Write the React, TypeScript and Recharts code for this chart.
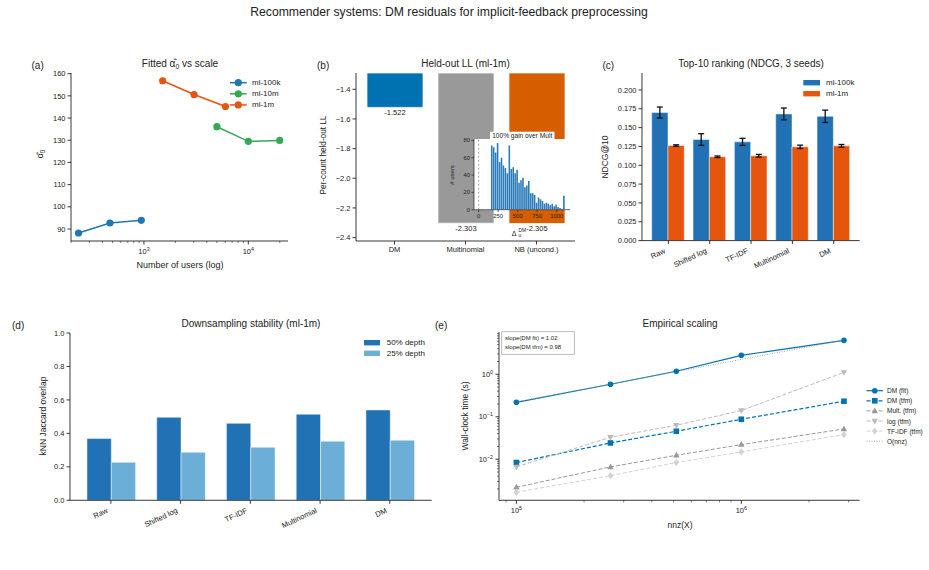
import React from "react";
import {
  Bar,
  BarChart,
  Cell,
  ErrorBar,
  LabelList,
  Line,
  LineChart,
  ReferenceLine,
  XAxis,
  YAxis,
} from "recharts";

const FONT = '"Liberation Sans", Arial, Helvetica, sans-serif';
const INK = "#222222";

// ---- (a) fitted alpha_0 vs number of users
const ml100kUsers = [236, 472, 943];
const ml100kAlpha = [88.2, 92.7, 93.9];
const ml10mUsers = [5000, 10000, 20000];
const ml10mAlpha = [136.1, 129.5, 129.9];
const ml1mUsers = [1510, 3020, 6040];
const ml1mAlpha = [156.8, 150.6, 145.2];
const userTicks = [
  200, 300, 400, 500, 600, 700, 800, 900, 1000, 2000, 3000, 4000, 5000, 6000,
  7000, 8000, 9000, 10000, 20000,
];
const alphaTicks = [90, 100, 110, 120, 130, 140, 150, 160];

// ---- (b) held-out log-likelihood + inset histogram of gains
const llModels = ["DM", "Multinomial", "NB (uncond.)"];
const llValues = [-1.522, -2.303, -2.305];
const llColors = ["#0072b2", "#999999", "#d55e00"];
const llTicks = [-2.4, -2.2, -2.0, -1.8, -1.6, -1.4];
const gainBins = [
  170, 195, 220, 245, 270, 295, 320, 345, 370, 395, 420, 445, 470, 495, 520,
  545, 570, 595, 620, 645, 670, 695, 720, 745, 770, 795, 820, 845, 870, 895,
  920, 945, 970, 995, 1020, 1045, 1070, 1095,
];
const gainUsers = [
  74, 72, 66, 77, 55, 60, 51, 48, 42, 74, 47, 49, 42, 46, 31, 34, 37, 26, 28,
  33, 19, 19, 17, 8, 14, 12, 10, 7, 8, 7, 5, 7, 4, 6, 3, 2, 1, 16,
];
const gainTicks = [0, 250, 500, 750, 1000];
const gainCountTicks = [0, 20, 40, 60, 80];

// ---- (c) NDCG@10
const methods = ["Raw", "Shifted log", "TF-IDF", "Multinomial", "DM"];
const ndcgMl100k = [0.17, 0.1342, 0.1311, 0.1682, 0.165];
const ndcgMl100kErr = [0.0073, 0.0077, 0.0047, 0.0078, 0.0082];
const ndcgMl1m = [0.1262, 0.1113, 0.1126, 0.1245, 0.1258];
const ndcgMl1mErr = [0.001, 0.001, 0.0018, 0.0022, 0.0018];
const ndcgTicks = [0, 0.025, 0.05, 0.075, 0.1, 0.125, 0.15, 0.175, 0.2];

// ---- (d) downsampling stability
const jaccard50 = [0.369, 0.496, 0.46, 0.514, 0.54];
const jaccard25 = [0.227, 0.287, 0.317, 0.353, 0.359];
const jaccardTicks = [0, 0.2, 0.4, 0.6, 0.8, 1.0];

// ---- (e) empirical scaling
const nnz = [100000, 262000, 514000, 1000000, 2860000];
const dmFitTime = [0.219, 0.582, 1.18, 2.8, 6.3];
const dmTfmTime = [0.00836, 0.0242, 0.0456, 0.0873, 0.232];
const multTfmTime = [0.00219, 0.0066, 0.0124, 0.0221, 0.0516];
const logTfmTime = [0.0066, 0.033, 0.063, 0.14, 1.11];
const tfidfTfmTime = [0.00167, 0.0041, 0.00836, 0.0149, 0.0381];
const oNnzTime = [0.224, 0.586, 1.15, 2.24, 6.4];
const nnzTicks = [
  90000, 100000, 200000, 300000, 400000, 500000, 600000, 700000, 800000,
  900000, 1000000, 2000000, 3000000,
];
const timeTicks = [
  0.002, 0.003, 0.004, 0.005, 0.006, 0.007, 0.008, 0.009, 0.01, 0.02, 0.03,
  0.04, 0.05, 0.06, 0.07, 0.08, 0.09, 0.1, 0.2, 0.3, 0.4, 0.5, 0.6, 0.7, 0.8,
  0.9, 1, 2, 3, 4, 5, 6, 7, 8, 9,
];

const BLUE_A = "#1f77b4";
const GREEN_A = "#35a855";
const ORANGE = "#e6550d";
const BLUE_C = "#2171b5";
const LIGHT_D = "#6baed6";
const DM_BLUE = "#0072b2";

type Box = { x0: number; x1: number; y0: number; y1: number };

// chart box so that the plot area lands exactly on the given rectangle
const frame = (b: Box, yw = 44, xh = 40, pad = 6) => ({
  left: b.x0 - yw,
  top: b.y0 - pad,
  width: b.x1 - b.x0 + yw + pad,
  height: b.y1 - b.y0 + pad + xh,
  margin: { top: pad, right: pad, bottom: 0, left: 0 },
  yw,
  xh,
});

const axisLine = { stroke: INK, strokeWidth: 0.9 };
const tickLine = { stroke: INK, strokeWidth: 0.9 };
const tickText = { fill: INK, fontSize: 7.5 };

const isDecade = (v: number) =>
  Math.abs(Math.log10(v) - Math.round(Math.log10(v))) < 1e-9;

const Pow10 = ({ x, y, exp, size, anchor }: any) => (
  <text x={x} y={y} fontSize={size} fill={INK} textAnchor={anchor}>
    10
    <tspan dy={-size * 0.45} fontSize={size * 0.7}>
      {exp < 0 ? `\u2212${-exp}` : `${exp}`}
    </tspan>
  </text>
);

const LogXTick = (props: any) => {
  const { x, y, payload } = props;
  const major = isDecade(payload.value);
  return (
    <g>
      <line
        x1={x}
        x2={x}
        y1={y}
        y2={y + (major ? 3.5 : 2)}
        stroke={INK}
        strokeWidth={major ? 0.9 : 0.6}
      />
      {major && (
        <Pow10
          x={x}
          y={y + 13}
          exp={Math.round(Math.log10(payload.value))}
          size={7.5}
          anchor="middle"
        />
      )}
    </g>
  );
};

const LogYTick = (props: any) => {
  const { x, y, payload } = props;
  const major = isDecade(payload.value);
  return (
    <g>
      <line
        x1={x - (major ? 3.5 : 2)}
        x2={x}
        y1={y}
        y2={y}
        stroke={INK}
        strokeWidth={major ? 0.9 : 0.6}
      />
      {major && (
        <Pow10
          x={x - 6}
          y={y + 2.7}
          exp={Math.round(Math.log10(payload.value))}
          size={7.5}
          anchor="end"
        />
      )}
    </g>
  );
};

const SlantTick = (props: any) => {
  const { x, y, payload } = props;
  return (
    <text
      transform={`translate(${x - 2.5},${y + 8.5}) rotate(-25)`}
      textAnchor="end"
      fontSize={7.5}
      fill={INK}
    >
      {payload.value}
    </text>
  );
};

const Marker = ({ shape, cx, cy, s, fill }: any) => {
  switch (shape) {
    case "square":
      return <rect x={cx - s} y={cy - s} width={2 * s} height={2 * s} fill={fill} />;
    case "up":
      return (
        <polygon
          points={`${cx},${cy - s * 1.25} ${cx - s * 1.15},${cy + s * 0.8} ${cx + s * 1.15},${cy + s * 0.8}`}
          fill={fill}
        />
      );
    case "down":
      return (
        <polygon
          points={`${cx},${cy + s * 1.25} ${cx - s * 1.15},${cy - s * 0.8} ${cx + s * 1.15},${cy - s * 0.8}`}
          fill={fill}
        />
      );
    case "diamond":
      return (
        <polygon
          points={`${cx},${cy - s * 1.3} ${cx + s},${cy} ${cx},${cy + s * 1.3} ${cx - s},${cy}`}
          fill={fill}
        />
      );
    default:
      return <circle cx={cx} cy={cy} r={s} fill={fill} />;
  }
};

// ---------------- (a)
const PA: Box = { x0: 71, x1: 288, y0: 72.7, y1: 240.7 };
const aSeries = [
  { name: "ml-100k", users: ml100kUsers, alpha: ml100kAlpha, color: BLUE_A },
  { name: "ml-10m", users: ml10mUsers, alpha: ml10mAlpha, color: GREEN_A },
  { name: "ml-1m", users: ml1mUsers, alpha: ml1mAlpha, color: ORANGE },
];

function PanelA() {
  const f = frame(PA);
  return (
    <div style={{ position: "absolute", left: f.left, top: f.top }}>
      <LineChart width={f.width} height={f.height} margin={f.margin}>
        <XAxis
          type="number"
          dataKey="users"
          scale="log"
          domain={[200, 24000]}
          allowDataOverflow
          ticks={userTicks}
          interval={0}
          tickSize={0}
          tickMargin={0}
          tick={LogXTick}
          tickLine={false}
          axisLine={axisLine}
          height={f.xh}
        />
        <YAxis
          type="number"
          domain={[84.6, 160.3]}
          allowDataOverflow
          ticks={alphaTicks}
          interval={0}
          tickSize={3.5}
          tickLine={tickLine}
          axisLine={axisLine}
          tick={tickText}
          width={f.yw}
        />
        {aSeries.map((s) => (
          <Line
            key={s.name}
            data={s.users.map((u, i) => ({ users: u, alpha: s.alpha[i] }))}
            dataKey="alpha"
            stroke={s.color}
            strokeWidth={1.5}
            dot={{ r: 3.6, fill: s.color, stroke: s.color, strokeWidth: 0 }}
            isAnimationActive={false}
          />
        ))}
      </LineChart>
    </div>
  );
}

// ---------------- (b)
const PB: Box = { x0: 356, x1: 575, y0: 72.7, y1: 240.7 };
const PINSET: Box = { x0: 474, x1: 570, y0: 139.3, y1: 210 };

const BarEndLabel = (props: any) => {
  const vb = props.viewBox && props.viewBox.width !== undefined ? props.viewBox : props;
  const { x, y, width, height } = vb;
  const bottom = Math.max(y, y + height);
  return (
    <text
      x={x + width / 2}
      y={bottom + 5}
      textAnchor="middle"
      dominantBaseline="central"
      fontSize={7.5}
      fill={INK}
    >
      {Number(props.value).toFixed(3)}
    </text>
  );
};

function PanelB() {
  const f = frame(PB);
  const rows = llModels.map((m, i) => ({ model: m, ll: llValues[i] }));
  const fi = frame(PINSET, 20, 24, 2);
  const hist = gainBins.map((g, i) => ({ gain: g, users: gainUsers[i] }));
  const smallTick = { fill: INK, fontSize: 5.8 };
  const smallLine = { stroke: INK, strokeWidth: 0.7 };
  return (
    <>
      <div style={{ position: "absolute", left: f.left, top: f.top }}>
        <BarChart width={f.width} height={f.height} margin={f.margin} data={rows}>
          <XAxis
            dataKey="model"
            padding={{ left: 3, right: 3 }}
            tickSize={3.5}
            tickLine={tickLine}
            axisLine={axisLine}
            tick={tickText}
            interval={0}
            height={f.xh}
          />
          <YAxis
            type="number"
            domain={[-2.423, -1.29]}
            allowDataOverflow
            ticks={llTicks}
            interval={0}
            tickFormatter={(v: number) => v.toFixed(1).replace("-", "\u2212")}
            tickSize={3.5}
            tickLine={tickLine}
            axisLine={axisLine}
            tick={tickText}
            width={f.yw}
          />
          <Bar
            dataKey="ll"
            barSize={56}
            stroke="#ffffff"
            strokeOpacity={0.7}
            strokeWidth={1}
            isAnimationActive={false}
          >
            {rows.map((r, i) => (
              <Cell key={r.model} fill={llColors[i]} />
            ))}
            <LabelList dataKey="ll" content={BarEndLabel} />
          </Bar>
        </BarChart>
      </div>
      <div
        style={{
          position: "absolute",
          left: PINSET.x0,
          top: PINSET.y0,
          width: PINSET.x1 - PINSET.x0,
          height: PINSET.y1 - PINSET.y0,
          background: "#ffffff",
        }}
      />
      <div style={{ position: "absolute", left: fi.left, top: fi.top }}>
        <BarChart width={fi.width} height={fi.height} margin={fi.margin} data={hist}>
          <XAxis
            type="number"
            dataKey="gain"
            domain={[-60, 1171]}
            allowDataOverflow
            ticks={gainTicks}
            interval={0}
            tickSize={2.5}
            tickMargin={2}
            tickLine={smallLine}
            axisLine={smallLine}
            tick={smallTick}
            height={fi.xh}
          />
          <YAxis
            type="number"
            domain={[0, 81.6]}
            allowDataOverflow
            ticks={gainCountTicks}
            interval={0}
            tickSize={2.5}
            tickMargin={1.5}
            tickLine={smallLine}
            axisLine={smallLine}
            tick={smallTick}
            width={fi.yw}
          />
          <ReferenceLine x={0} stroke="#777777" strokeWidth={0.7} strokeDasharray="2 2" />
          <Bar dataKey="users" fill="#2b7bba" barSize={1.6} isAnimationActive={false} />
        </BarChart>
      </div>
    </>
  );
}

// ---------------- (c)
const PC: Box = { x0: 642.3, x1: 860, y0: 72.7, y1: 240.3 };

function PanelC() {
  const f = frame(PC);
  const rows = methods.map((m, i) => ({
    method: m,
    ml100k: ndcgMl100k[i],
    ml100kErr: ndcgMl100kErr[i],
    ml1m: ndcgMl1m[i],
    ml1mErr: ndcgMl1mErr[i],
  }));
  return (
    <div style={{ position: "absolute", left: f.left, top: f.top }}>
      <BarChart width={f.width} height={f.height} margin={f.margin} data={rows} barGap={0}>
        <XAxis
          dataKey="method"
          padding={{ left: 5.7, right: 5.3 }}
          tickSize={3.5}
          tickMargin={0}
          tickLine={tickLine}
          axisLine={axisLine}
          tick={SlantTick}
          interval={0}
          height={f.xh}
        />
        <YAxis
          type="number"
          domain={[0, 0.2225]}
          allowDataOverflow
          ticks={ndcgTicks}
          interval={0}
          tickFormatter={(v: number) => v.toFixed(3)}
          tickSize={3.5}
          tickLine={tickLine}
          axisLine={axisLine}
          tick={tickText}
          width={f.yw}
        />
        <Bar
          dataKey="ml100k"
          fill={BLUE_C}
          barSize={16.3}
          stroke="#ffffff"
          strokeOpacity={0.6}
          strokeWidth={0.8}
          isAnimationActive={false}
        >
          <ErrorBar dataKey="ml100kErr" width={3} stroke="#111111" strokeWidth={1.3} direction="y" />
        </Bar>
        <Bar
          dataKey="ml1m"
          fill={ORANGE}
          barSize={16.3}
          stroke="#ffffff"
          strokeOpacity={0.6}
          strokeWidth={0.8}
          isAnimationActive={false}
        >
          <ErrorBar dataKey="ml1mErr" width={3} stroke="#111111" strokeWidth={1.3} direction="y" />
        </Bar>
      </BarChart>
    </div>
  );
}

// ---------------- (d)
const PD: Box = { x0: 70, x1: 431.7, y0: 332.7, y1: 500 };

function PanelD() {
  const f = frame(PD);
  const rows = methods.map((m, i) => ({ method: m, d50: jaccard50[i], d25: jaccard25[i] }));
  return (
    <div style={{ position: "absolute", left: f.left, top: f.top }}>
      <BarChart width={f.width} height={f.height} margin={f.margin} data={rows} barGap={0}>
        <XAxis
          dataKey="method"
          padding={{ left: 6, right: 7 }}
          tickSize={3.5}
          tickMargin={0}
          tickLine={tickLine}
          axisLine={axisLine}
          tick={SlantTick}
          interval={0}
          height={f.xh}
        />
        <YAxis
          type="number"
          domain={[0, 1]}
          ticks={jaccardTicks}
          interval={0}
          tickFormatter={(v: number) => v.toFixed(1)}
          tickSize={3.5}
          tickLine={tickLine}
          axisLine={axisLine}
          tick={tickText}
          width={f.yw}
        />
        <Bar
          dataKey="d50"
          fill={BLUE_C}
          barSize={24.3}
          stroke="#ffffff"
          strokeOpacity={0.6}
          strokeWidth={0.8}
          isAnimationActive={false}
        />
        <Bar
          dataKey="d25"
          fill={LIGHT_D}
          barSize={24.3}
          stroke="#ffffff"
          strokeOpacity={0.6}
          strokeWidth={0.8}
          isAnimationActive={false}
        />
      </BarChart>
    </div>
  );
}

// ---------------- (e)
const PE: Box = { x0: 499.3, x1: 860, y0: 331.7, y1: 500 };
const eSeries = [
  { key: "dmFit", name: "DM (fit)", color: DM_BLUE, shape: "circle", dash: undefined, width: 1.2 },
  { key: "dmTfm", name: "DM (tfm)", color: DM_BLUE, shape: "square", dash: "4 2", width: 1.2 },
  { key: "multTfm", name: "Mult. (tfm)", color: "#999999", shape: "up", dash: "4 2", width: 1 },
  { key: "logTfm", name: "log (tfm)", color: "#bbbbbb", shape: "down", dash: "4 2", width: 1 },
  { key: "tfidfTfm", name: "TF-IDF (tfm)", color: "#d2d2d2", shape: "diamond", dash: "4 2", width: 1 },
];

function PanelE() {
  const f = frame(PE);
  const rows = nnz.map((n, i) => ({
    nnz: n,
    dmFit: dmFitTime[i],
    dmTfm: dmTfmTime[i],
    multTfm: multTfmTime[i],
    logTfm: logTfmTime[i],
    tfidfTfm: tfidfTfmTime[i],
    oNnz: oNnzTime[i],
  }));
  return (
    <div style={{ position: "absolute", left: f.left, top: f.top }}>
      <LineChart width={f.width} height={f.height} margin={f.margin} data={rows}>
        <XAxis
          type="number"
          dataKey="nnz"
          scale="log"
          domain={[83700, 3360000]}
          allowDataOverflow
          ticks={nnzTicks}
          interval={0}
          tickSize={0}
          tickMargin={0}
          tick={LogXTick}
          tickLine={false}
          axisLine={axisLine}
          height={f.xh}
        />
        <YAxis
          type="number"
          scale="log"
          domain={[0.00108, 9.9]}
          allowDataOverflow
          ticks={timeTicks}
          interval={0}
          tickSize={0}
          tickMargin={0}
          tick={LogYTick}
          tickLine={false}
          axisLine={axisLine}
          width={f.yw}
        />
        {eSeries.map((s) => (
          <Line
            key={s.key}
            dataKey={s.key}
            stroke={s.color}
            strokeWidth={s.width}
            strokeDasharray={s.dash}
            dot={(p: any) => (
              <Marker key={`${s.key}-${p.index}`} shape={s.shape} cx={p.cx} cy={p.cy} s={2.8} fill={s.color} />
            )}
            isAnimationActive={false}
          />
        ))}
        <Line
          dataKey="oNnz"
          stroke="#999999"
          strokeWidth={0.9}
          strokeDasharray="1 1.5"
          dot={false}
          isAnimationActive={false}
        />
      </LineChart>
    </div>
  );
}

// ---------------- text, legends, annotations
const T = ({ x, y, size = 8.5, anchor = "middle", rotate, fill = INK, children }: any) => (
  <text
    x={x}
    y={y}
    fontSize={size}
    textAnchor={anchor}
    dominantBaseline="central"
    fill={fill}
    transform={rotate ? `rotate(${rotate} ${x} ${y})` : undefined}
  >
    {children}
  </text>
);

function Annotations() {
  return (
    <svg
      width={929}
      height={570}
      style={{ position: "absolute", left: 0, top: 0, pointerEvents: "none", fontFamily: FONT }}
    >
      <T x={449} y={11.7} size={12.2}>
        Recommender systems: DM residuals for implicit-feedback preprocessing
      </T>

      {/* panel letters */}
      <T x={31.5} y={65} size={10} anchor="start">(a)</T>
      <T x={317} y={65} size={10} anchor="start">(b)</T>
      <T x={602.5} y={65} size={10} anchor="start">(c)</T>
      <T x={12} y={325} size={10} anchor="start">(d)</T>
      <T x={435} y={325} size={10} anchor="start">(e)</T>

      {/* titles */}
      <T x={180} y={63} size={10}>
        Fitted α̂<tspan dy={2.5} fontSize={7}>0</tspan>
        <tspan dy={-2.5}> vs scale</tspan>
      </T>
      <T x={465.5} y={63} size={10}>Held-out LL (ml-1m)</T>
      <T x={751} y={63} size={10}>Top-10 ranking (NDCG, 3 seeds)</T>
      <T x={251} y={323} size={10}>Downsampling stability (ml-1m)</T>
      <T x={680} y={323} size={10}>Empirical scaling</T>

      {/* axis labels */}
      <T x={180} y={265} size={9}>Number of users (log)</T>
      <T x={39.5} y={154} rotate={-90}>
        α̂<tspan dy={2.5} fontSize={6.5}>0</tspan>
      </T>
      <T x={323.5} y={155} size={8.2} rotate={-90}>Per-count held-out LL</T>
      <T x={605} y={157} rotate={-90}>NDCG@10</T>
      <T x={42.7} y={416} rotate={-90}>kNN Jaccard overlap</T>
      <T x={465} y={416} rotate={-90}>Wall-clock time (s)</T>
      <T x={680} y={525}>nnz(X)</T>

      {/* (a) legend */}
      {aSeries.map((s, i) => {
        const y = 82.7 + i * 11.1;
        return (
          <g key={s.name}>
            <line x1={230} x2={246.7} y1={y} y2={y} stroke={s.color} strokeWidth={1.5} />
            <circle cx={238.3} cy={y} r={3.6} fill={s.color} />
            <T x={252} y={y} size={8} anchor="start">{s.name}</T>
          </g>
        );
      })}

      {/* (c) legend */}
      {[
        ["ml-100k", BLUE_C],
        ["ml-1m", ORANGE],
      ].map(([name, c], i) => {
        const y = 82.7 + i * 11;
        return (
          <g key={name}>
            <rect x={803.3} y={y - 2.7} width={16.7} height={5.4} fill={c} />
            <T x={826} y={y} size={8} anchor="start">{name}</T>
          </g>
        );
      })}

      {/* (d) legend */}
      {[
        ["50% depth", BLUE_C],
        ["25% depth", LIGHT_D],
      ].map(([name, c], i) => {
        const y = 342.7 + i * 10.6;
        return (
          <g key={name}>
            <rect x={364} y={y - 2.7} width={16} height={5.4} fill={c} />
            <T x={386.7} y={y} size={8} anchor="start">{name}</T>
          </g>
        );
      })}

      {/* (e) legend */}
      {eSeries.map((s, i) => {
        const y = 390.7 + i * 10.1;
        return (
          <g key={s.key}>
            <line x1={866.5} x2={883} y1={y} y2={y} stroke={s.color} strokeWidth={s.width} strokeDasharray={s.dash} />
            <Marker shape={s.shape} cx={874.8} cy={y} s={2.8} fill={s.color} />
            <T x={887} y={y} size={6.5} anchor="start">{s.name}</T>
          </g>
        );
      })}
      <line x1={866.5} x2={883} y1={441.2} y2={441.2} stroke="#999999" strokeWidth={0.9} strokeDasharray="1 1.5" />
      <T x={887} y={441.2} size={6.5} anchor="start">O(nnz)</T>

      {/* (e) slope box */}
      <rect x={501.7} y={331.7} width={72.6} height={22.6} fill="#ffffff" stroke="#aaaaaa" strokeWidth={0.8} />
      <T x={505} y={338} size={6} anchor="start">slope(DM fit) = 1.02</T>
      <T x={505} y={347} size={6} anchor="start">slope(DM tfm) = 0.98</T>

      {/* (b) inset decorations */}
      <rect x={490} y={131.7} width={64.5} height={7.6} fill="#ffffff" />
      <T x={522.2} y={135.6} size={6.6}>100% gain over Mult</T>
      <T x={451.7} y={175} size={6} rotate={-90}># users</T>
      <T x={514} y={233} size={7}>Δ</T>
      <T x={518.5} y={230} size={4.8} anchor="start">DM</T>
      <T x={518.5} y={235} size={4.8} anchor="start">u</T>
    </svg>
  );
}

export default function App() {
  return (
    <div
      style={{
        position: "absolute",
        left: 0,
        top: 0,
        width: 929,
        height: 570,
        background: "#ffffff",
        fontFamily: FONT,
        overflow: "hidden",
      }}
    >
      <PanelA />
      <PanelB />
      <PanelC />
      <PanelD />
      <PanelE />
      <Annotations />
    </div>
  );
}
